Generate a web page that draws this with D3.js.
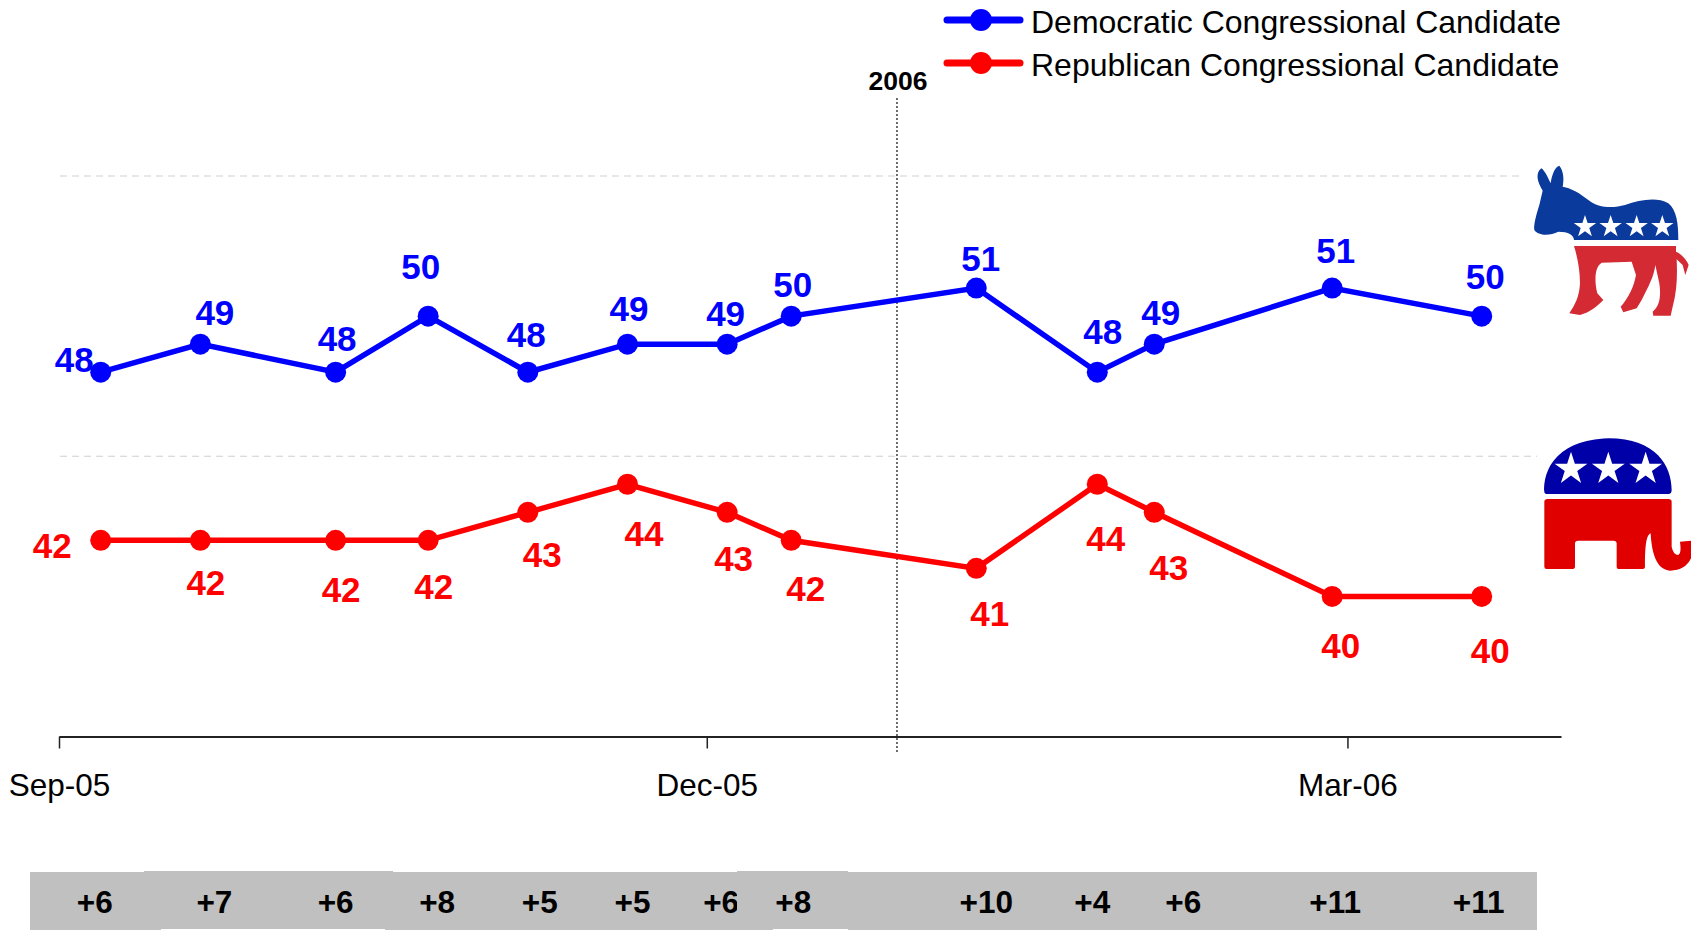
<!DOCTYPE html>
<html lang="en">
<head>
    <meta charset="UTF-8">
    <title>Congressional ballot</title>
    <script src="https://d3js.org/d3.v7.min.js"></script>
    <style>
        html, body { margin: 0; padding: 0; background: white; overflow: hidden; }
        svg { display: block; }
        text { font-family: "Liberation Sans", Arial, sans-serif; }
    </style>
</head>
<body>
<script>

    // data
    var dates = ["2005-09-07", "2005-09-21", "2005-10-10", "2005-10-23", "2005-11-06", "2005-11-20", "2005-12-04",
        "2005-12-13", "2006-01-08", "2006-01-25", "2006-02-02", "2006-02-27", "2006-03-20"]
    var dem = [48, 49, 48, 50, 48, 49, 49, 50, 51, 48, 49, 51, 50]
    var rep = [42, 42, 42, 42, 43, 44, 43, 42, 41, 44, 43, 40, 40]
    var margins = ["+6", "+7", "+6", "+8", "+5", "+5", "+6", "+8", "+10", "+4", "+6", "+11", "+11"]
    var tick_dates = ["2005-09-01", "2005-12-01", "2006-03-01"]
    var tick_labels = ["Sep-05", "Dec-05", "Mar-06"]
    var grid_values = [45, 55]
    var year_marker = "2005-12-28"
    var series_names = ["Democratic Congressional Candidate", "Republican Congressional Candidate"]

    // hand placed label offsets, as in the original slide
    var dem_nudge = [[-27, -12], [14, -31], [1, -33], [-8, -49], [-2, -37], [1, -35], [-2, -30], [1, -31], [4, -29], [5, -40], [6, -31], [3, -37], [3, -39]]
    var rep_nudge = [[-49, 6], [5, 43], [5, 50], [5, 47], [14, 43], [16, 50], [6, 47], [14, 49], [13, 46], [8, 55], [14, 56], [8, 50], [8, 55]]
    var margin_nudge = [-6, 14, 0, 9, 12, 5, -6, 2, 10, -5, 29, 3, -3]

    var width = 1691;
    var height = 930;
    var blue = "#0000ff";
    var red = "#ff0000";

    var parse = d3.utcParse("%Y-%m-%d");

    var x = d3.scaleUtc()
        .domain([parse("2005-09-01"), parse("2006-03-31")])
        .range([59, 1561])
    var y = d3.scaleLinear()
        .domain([35, 55])
        .range([736.5, 176])

    // points sit a touch left of the date ticks in the original
    function px(date) {
        return x(date) - 1
    }

    var graph = d3.select("body").append("svg")
        .attr("width", width)
        .attr("height", height)
        .attr("viewBox", [0, 0, width, height])

    // grid
    graph.selectAll(".grid")
        .data(grid_values)
        .join("line")
        .attr("class", "grid")
        .attr("x1", 60)
        .attr("x2", 1537)
        .attr("y1", d => y(d))
        .attr("y2", d => y(d))
        .attr("stroke", "#cfcfcf")
        .attr("stroke-width", 1)
        .attr("stroke-dasharray", "7,5")

    // axis
    var axis = d3.axisBottom(x)
        .tickValues(tick_dates.map(parse))
        .tickFormat((d, i) => tick_labels[i])
        .tickSizeInner(12)
        .tickSizeOuter(0)
        .tickPadding(25)

    var axis_g = graph.append("g")
        .attr("transform", "translate(0," + y(35) + ")")
        .call(axis)
    axis_g.select(".domain")
        .attr("stroke", "#222")
        .attr("stroke-width", 2)
    axis_g.selectAll(".tick line")
        .attr("stroke", "#222")
        .attr("stroke-width", 1.5)
    axis_g.selectAll(".tick text")
        .attr("fill", "black")
        .attr("font-size", 31.5)
        .attr("font-family", "Liberation Sans")

    // 2006 marker
    var marker_x = x(parse(year_marker)) - 2
    graph.append("line")
        .attr("x1", marker_x)
        .attr("x2", marker_x)
        .attr("y1", 98)
        .attr("y2", 752)
        .attr("stroke", "#222")
        .attr("stroke-width", 1.3)
        .attr("stroke-dasharray", "2,2")
    graph.append("text")
        .attr("x", marker_x + 1)
        .attr("y", 90)
        .attr("text-anchor", "middle")
        .attr("font-size", 26.5)
        .attr("font-weight", "bold")
        .attr("fill", "black")
        .text("2006")

    // series
    function draw_series(values, color, nudge) {
        var points = values.map((v, i) => ({ date: parse(dates[i]), value: v, nudge: nudge[i] }))
        var line = d3.line()
            .x(d => px(d.date))
            .y(d => y(d.value))

        graph.append("path")
            .datum(points)
            .attr("d", line)
            .attr("fill", "none")
            .attr("stroke", color)
            .attr("stroke-width", 5.5)

        graph.append("g").selectAll("circle")
            .data(points)
            .join("circle")
            .attr("cx", d => px(d.date))
            .attr("cy", d => y(d.value))
            .attr("r", 10.5)
            .attr("fill", color)

        graph.append("g").selectAll("text")
            .data(points)
            .join("text")
            .attr("x", d => px(d.date) + d.nudge[0] + 0.5)
            .attr("y", d => y(d.value) + d.nudge[1] - 0.5)
            .attr("dy", "0.36em")
            .attr("text-anchor", "middle")
            .attr("font-size", 35)
            .attr("font-weight", "bold")
            .attr("fill", color)
            .text(d => d.value)
    }
    draw_series(dem, blue, dem_nudge)
    draw_series(rep, red, rep_nudge)

    // legend
    var legend = graph.append("g").selectAll("g")
        .data(series_names)
        .join("g")
        .attr("transform", (d, i) => "translate(0," + (i == 0 ? 20 : 63) + ")")
    legend.append("line")
        .attr("x1", 947)
        .attr("x2", 1020)
        .attr("stroke", (d, i) => i == 0 ? blue : red)
        .attr("stroke-width", 7)
        .attr("stroke-linecap", "round")
    legend.append("circle")
        .attr("cx", 981)
        .attr("r", 11)
        .attr("fill", (d, i) => i == 0 ? blue : red)
    legend.append("text")
        .attr("x", 1031)
        .attr("y", 1)
        .attr("dy", "0.36em")
        .attr("font-size", 32)
        .attr("fill", "black")
        .text(d => d)

    // margin band, the slide was pieced together so edges do not quite line up
    var band = graph.append("g")
    band.append("rect").attr("x", 30).attr("y", 872).attr("width", 1507).attr("height", 58).attr("fill", "#c0c0c0")
    band.append("rect").attr("x", 144).attr("y", 871).attr("width", 249).attr("height", 2).attr("fill", "#c0c0c0")
    band.append("rect").attr("x", 161).attr("y", 929).attr("width", 224).attr("height", 1).attr("fill", "white")
    band.append("rect").attr("x", 773).attr("y", 929).attr("width", 75).attr("height", 1).attr("fill", "white")

    function margin_text(sel) {
        sel.attr("x", (d, i) => px(parse(dates[i])) + margin_nudge[i])
            .attr("y", 901.5)
            .attr("dy", "0.36em")
            .attr("text-anchor", "middle")
            .attr("font-size", 31.5)
            .attr("font-weight", "bold")
            .attr("fill", "black")
            .text(d => d)
    }
    band.append("g").selectAll("text")
        .data(margins)
        .join("text")
        .call(margin_text)
    // the +8 piece overlaps the +6 next to it
    band.append("rect").attr("x", 737).attr("y", 871).attr("width", 111).attr("height", 58).attr("fill", "#c0c0c0")
    band.append("text")
        .attr("x", px(parse(dates[7])) + margin_nudge[7])
        .attr("y", 901.5)
        .attr("dy", "0.36em")
        .attr("text-anchor", "middle")
        .attr("font-size", 31.5)
        .attr("font-weight", "bold")
        .attr("fill", "black")
        .text(margins[7])

    // party mascots
    graph.append("rect").attr("x", 1521).attr("y", 163).attr("width", 170).attr("height", 160).attr("fill", "white")
    graph.append("rect").attr("x", 1537).attr("y", 435).attr("width", 154).attr("height", 145).attr("fill", "white")

    var donkey = graph.append("g")
        .attr("transform", "translate(1500,150) scale(0.3333)")
    donkey.append("path")
        .attr("fill", "#0a3a9c")
        .attr("d", "M128,122 C112,95 105,70 124,55 C135,62 145,85 152,100 C155,75 165,50 178,47 C192,65 192,90 188,110 C215,115 240,130 265,150 C295,175 340,175 375,165 C420,150 470,140 505,160 C530,180 535,220 535,270 L222,270 C222,255 205,245 175,245 C150,258 115,258 103,240 C100,225 110,190 118,165 Z")
    donkey.append("path")
        .attr("fill", "#d42a34")
        .attr("d", "M222,288 L528,288 L528,305 C545,312 560,330 566,345 L556,375 L548,345 L530,328 C532,370 532,420 518,470 L512,497 L460,497 L458,485 C478,470 484,440 478,400 L466,345 C462,380 445,410 425,450 L410,475 L370,487 L362,470 C385,445 402,410 408,375 L395,335 L305,338 C285,350 282,390 292,430 L310,450 C290,470 270,487 240,495 L208,490 C225,465 238,440 240,400 C240,360 232,320 222,288 Z")
    donkey.selectAll(".star")
        .data([255, 332, 410, 487])
        .join("path")
        .attr("class", "star")
        .attr("transform", d => "translate(" + d + ",230)")
        .attr("d", d3.symbol(d3.symbolStar).size(1400))
        .attr("fill", "white")

    var elephant = graph.append("g")
        .attr("transform", "translate(1500,420) scale(0.3333)")
    elephant.append("path")
        .attr("fill", "#0000a8")
        .attr("d", "M133,215 C130,150 170,60 325,55 C470,55 515,140 515,210 Q515,222 505,222 L143,222 Q133,222 133,215 Z")
    elephant.append("path")
        .attr("fill", "#e00000")
        .attr("d", "M133,245 Q133,237 143,237 L505,237 Q515,237 515,245 L515,380 Q520,405 535,405 Q545,400 540,365 L575,362 L575,410 Q560,450 510,452 C470,450 455,400 452,340 C440,345 435,370 435,440 Q435,447 425,447 L358,447 Q350,447 350,440 L350,370 Q350,362 340,362 L235,362 Q225,362 225,370 L225,440 Q225,447 215,447 L140,447 Q133,447 133,440 Z")
    elephant.selectAll(".star")
        .data([213, 325, 437])
        .join("path")
        .attr("class", "star")
        .attr("transform", d => "translate(" + d + ",147)")
        .attr("d", d3.symbol(d3.symbolStar).size(3000))
        .attr("fill", "white")

</script>
</body>
</html>
